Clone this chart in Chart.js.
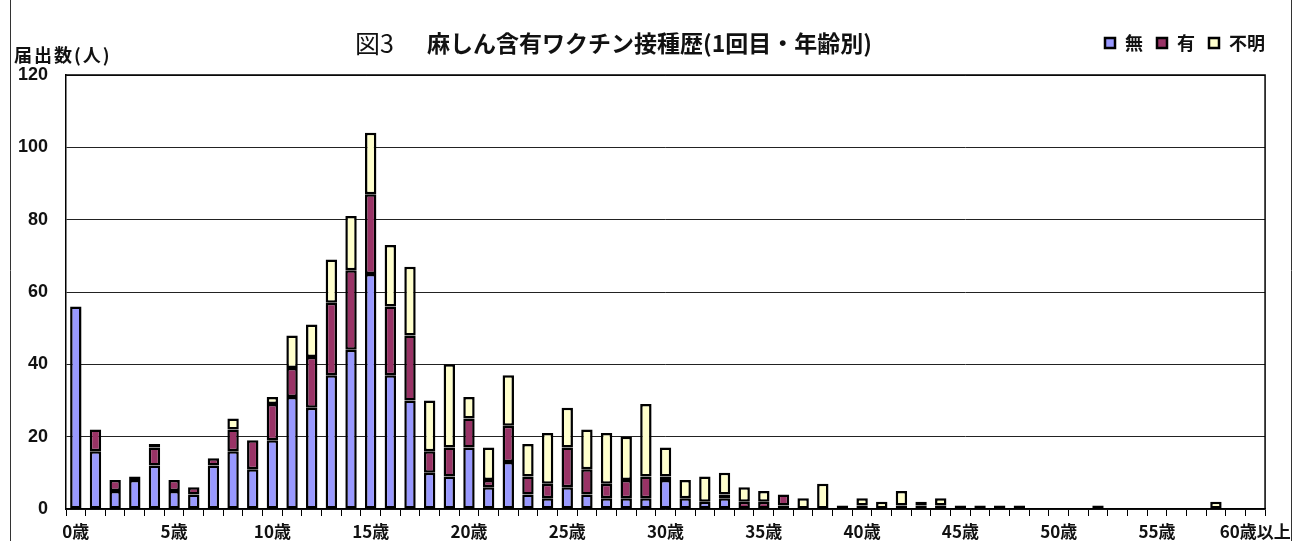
<!DOCTYPE html>
<html lang="ja">
<head>
<meta charset="UTF-8">
<title>図3 麻しん含有ワクチン接種歴(1回目・年齢別)</title>
<script src="https://cdn.jsdelivr.net/npm/chart.js@4"></script>
<style>
  html, body { margin: 0; padding: 0; background: #fff; }
  #wrap { position: relative; width: 1296px; height: 541px; }
</style>
</head>
<body>
<div id="wrap"><canvas id="chart"></canvas></div>
<script>
// 年齢区分 (0歳〜60歳以上)
const ageLabels = [
  '0歳','1歳','2歳','3歳','4歳','5歳','6歳','7歳','8歳','9歳',
  '10歳','11歳','12歳','13歳','14歳','15歳','16歳','17歳','18歳','19歳',
  '20歳','21歳','22歳','23歳','24歳','25歳','26歳','27歳','28歳','29歳',
  '30歳','31歳','32歳','33歳','34歳','35歳','36歳','37歳','38歳','39歳',
  '40歳','41歳','42歳','43歳','44歳','45歳','46歳','47歳','48歳','49歳',
  '50歳','51歳','52歳','53歳','54歳','55歳','56歳','57歳','58歳','59歳',
  '60歳以上'
];

// 接種歴 無
const noneCounts = [
  56,16,5,8,12,5,4,12,16,11,
  19,31,28,37,44,65,37,30,10,9,
  17,6,13,4,3,6,4,3,3,3,
  8,3,2,3,0,0,1,0,0,0,
  0,0,0,0,0,0,0,0,0,0,
  0,0,0,0,0,0,0,0,0,0,
  0
];
// 接種歴 有
const yesCounts = [
  0,6,3,1,5,3,2,2,6,8,
  10,8,14,20,22,22,19,18,6,8,
  8,2,10,5,4,11,7,4,5,6,
  1,0,0,1,2,2,3,0,0,1,
  1,0,1,1,1,1,1,1,1,0,
  0,0,1,0,0,0,0,0,0,0,
  0
];
// 接種歴 不明
const unknownCounts = [
  0,0,0,0,1,0,0,0,3,0,
  2,9,9,12,15,17,17,19,14,23,
  6,9,14,9,14,11,11,14,12,20,
  8,5,7,6,4,3,0,3,7,0,
  2,2,4,1,2,0,0,0,0,0,
  0,0,0,0,0,0,0,0,2,0,
  0
];

const seriesNames = ['無', '有', '不明'];
const seriesColors = ['#9999ff', '#993366', '#ffffcc'];

const titleText = '麻しん含有ワクチン接種歴(1回目・年齢別)';
const figText = '図3';
const yTitle = '届出数(人)';

const jp = '"Noto Sans CJK JP", "Noto Sans", sans-serif';

// 枠・タイトル・凡例を描く
const decor = {
  id: 'decor',
  beforeDraw(chart) {
    const ctx = chart.ctx;
    ctx.save();
    ctx.fillStyle = '#fff';
    ctx.fillRect(0, 0, chart.width, chart.height);
    ctx.restore();
  },
  afterDraw(chart) {
    const ctx = chart.ctx;
    const a = chart.chartArea;
    ctx.save();
    // plot frame (top, right)
    ctx.strokeStyle = '#000';
    ctx.lineWidth = 1.5;
    ctx.beginPath();
    ctx.moveTo(a.left, a.top);
    ctx.lineTo(a.right, a.top);
    ctx.lineTo(a.right, a.bottom);
    ctx.stroke();
    // outer frame lines
    ctx.lineWidth = 1;
    ctx.strokeStyle = '#333';
    ctx.beginPath();
    ctx.moveTo(10.5, 0); ctx.lineTo(10.5, chart.height);
    ctx.moveTo(1291.5, 0); ctx.lineTo(1291.5, chart.height);
    ctx.stroke();

    // title
    ctx.fillStyle = '#111';
    ctx.textBaseline = 'middle';
    ctx.textAlign = 'left';
    ctx.font = '25px ' + jp;
    ctx.fillText(figText, 355, 43);
    ctx.font = 'bold 23px ' + jp;
    ctx.fillText(titleText, 427, 43);

    // y title
    ctx.font = 'bold 18px ' + jp;
    ctx.letterSpacing = '2px';
    ctx.fillText(yTitle, 14, 55);
    ctx.letterSpacing = '0px';

    // legend
    let x = 1105;
    const y = 43;
    ctx.font = 'bold 18px ' + jp;
    chart.data.datasets.forEach((ds, i) => {
      ctx.fillStyle = ds.backgroundColor;
      ctx.fillRect(x, y - 5, 10, 10);
      ctx.strokeStyle = '#000';
      ctx.lineWidth = 2.5;
      ctx.strokeRect(x, y - 5, 10, 10);
      ctx.fillStyle = '#111';
      ctx.fillText(ds.label, x + 20, y);
      x += 20 + ctx.measureText(ds.label).width + 14;
    });
    ctx.restore();
  }
};

const makeSet = (i, data) => ({
  label: seriesNames[i],
  data: data,
  backgroundColor: seriesColors[i],
  borderColor: '#000',
  borderWidth: 2.5,
  borderSkipped: false,
  barPercentage: 0.58,
  categoryPercentage: 1.0
});

new Chart(document.getElementById('chart'), {
  type: 'bar',
  data: {
    labels: ageLabels,
    datasets: [
      makeSet(0, noneCounts),
      makeSet(1, yesCounts),
      makeSet(2, unknownCounts)
    ]
  },
  options: {
    responsive: true,
    maintainAspectRatio: false,
    animation: false,
    layout: { padding: { top: 75, right: 27, left: 0, bottom: 0 } },
    plugins: {
      legend: { display: false },
      title: { display: false },
      tooltip: { enabled: false }
    },
    scales: {
      x: {
        stacked: true,
        afterFit: s => { s.height = 32; },
        grid: {
          offset: true,
          drawOnChartArea: false,
          drawTicks: true,
          tickLength: 7,
          color: '#000'
        },
        border: { color: '#000', width: 1.5 },
        ticks: {
          autoSkip: false,
          maxRotation: 0,
          padding: 5,
          color: '#111',
          font: { family: jp, size: 17, weight: 'bold' },
          callback: (v, i) => (i % 5 === 0 ? ageLabels[i] : '')
        }
      },
      y: {
        stacked: true,
        min: 0,
        max: 120,
        afterFit: s => { s.width = 66; },
        grid: { color: '#222', lineWidth: 1, drawTicks: false },
        border: { color: '#000', width: 1.5 },
        ticks: {
          stepSize: 20,
          padding: 18,
          color: '#111',
          font: { family: '"Liberation Sans", Arial, sans-serif', size: 18, weight: 'bold' }
        }
      }
    }
  },
  plugins: [decor]
});
</script>
</body>
</html>
